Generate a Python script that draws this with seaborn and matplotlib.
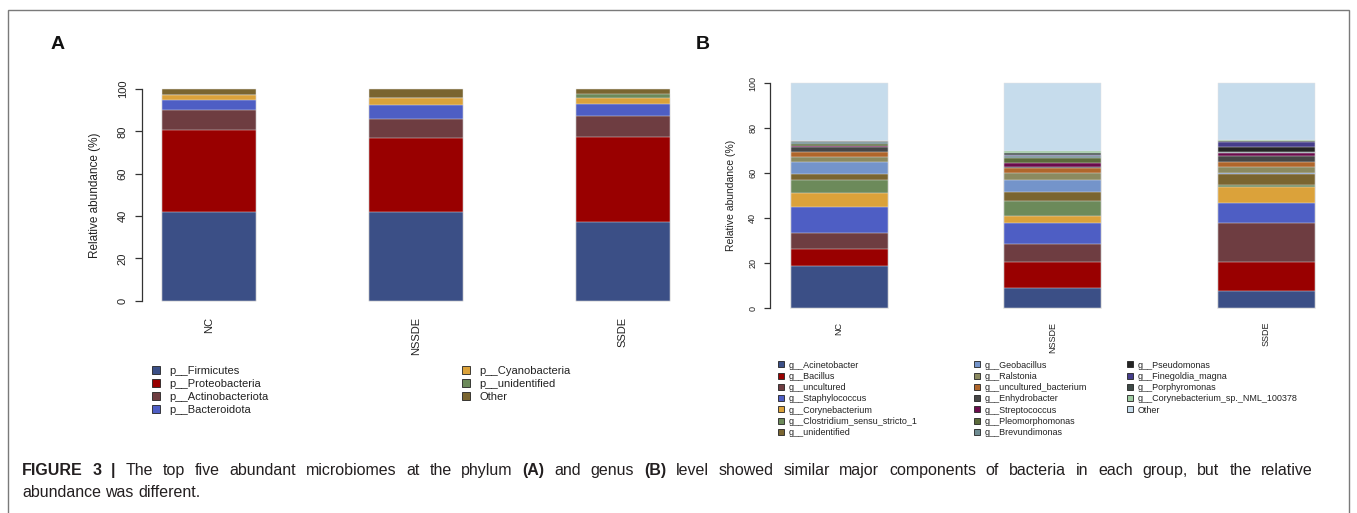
import matplotlib
matplotlib.use("Agg")
import matplotlib.pyplot as plt
from matplotlib.patches import Patch, Rectangle
import numpy as np
import pandas as pd
import seaborn as sns

# ---------------- data ----------------
groups = ["NC", "NSSDE", "SSDE"]

# Panel A - phylum level (%)
p_firmicutes = [41.7, 42.0, 37.2]
p_proteobacteria = [38.9, 34.9, 40.3]
p_actinobacteriota = [9.5, 9.1, 9.9]
p_bacteroidota = [4.7, 6.6, 5.7]
p_cyanobacteria = [2.2, 3.0, 2.8]
p_unidentified = [0.2, 0.2, 1.7]
p_other = [2.8, 4.2, 2.4]

phylum_names = ["p__Firmicutes", "p__Proteobacteria", "p__Actinobacteriota",
                "p__Bacteroidota", "p__Cyanobacteria", "p__unidentified", "Other"]
phylum_colors = ["#3B4F86", "#990000", "#6E3D41", "#4E5EC4", "#DBA23A",
                 "#6C8A5A", "#7A6530"]

# Panel B - genus level (%)
g_acinetobacter = [18.7, 9.2, 7.7]
g_bacillus = [7.7, 11.5, 13.0]
g_uncultured = [7.1, 7.7, 17.1]
g_staphylococcus = [11.7, 9.4, 9.2]
g_corynebacterium = [5.9, 3.3, 7.0]
g_clostridium = [5.9, 6.6, 0.8]
g_unidentified = [2.5, 4.1, 5.0]
g_geobacillus = [5.7, 5.2, 0.5]
g_ralstonia = [1.9, 3.0, 2.6]
g_uncultured_bacterium = [2.5, 2.2, 2.3]
g_enhydrobacter = [1.9, 0.7, 2.5]
g_streptococcus = [0.6, 1.5, 1.2]
g_pleomorphomonas = [0.8, 2.3, 0.3]
g_brevundimonas = [0.9, 1.0, 0.4]
g_pseudomonas = [0.2, 0.2, 1.9]
g_finegoldia = [0.1, 0.2, 2.3]
g_porphyromonas = [0.2, 0.8, 0.7]
g_coryne_sp = [0.1, 1.0, 0.1]
g_other = [25.6, 30.1, 25.4]

genus_names = ["g__Acinetobacter", "g__Bacillus", "g__uncultured", "g__Staphylococcus",
               "g__Corynebacterium", "g__Clostridium_sensu_stricto_1", "g__unidentified",
               "g__Geobacillus", "g__Ralstonia", "g__uncultured_bacterium", "g__Enhydrobacter",
               "g__Streptococcus", "g__Pleomorphomonas", "g__Brevundimonas",
               "g__Pseudomonas", "g__Finegoldia_magna", "g__Porphyromonas",
               "g__Corynebacterium_sp._NML_100378", "Other"]
genus_colors = ["#3B4F86", "#990000", "#6E3D41", "#4E5EC4", "#DBA23A", "#6C8A5A",
                "#7A6530", "#7494CA", "#8B8A60", "#B0662B", "#464646", "#6B0B4C",
                "#5B6A3A", "#6F8C92", "#242424", "#453D8A", "#3E4A47", "#9FCCA2",
                "#C6DCEC"]

phylum_layers = [p_firmicutes, p_proteobacteria, p_actinobacteriota, p_bacteroidota,
                 p_cyanobacteria, p_unidentified, p_other]
genus_layers = [g_acinetobacter, g_bacillus, g_uncultured, g_staphylococcus,
                g_corynebacterium, g_clostridium, g_unidentified, g_geobacillus,
                g_ralstonia, g_uncultured_bacterium, g_enhydrobacter, g_streptococcus,
                g_pleomorphomonas, g_brevundimonas, g_pseudomonas, g_finegoldia,
                g_porphyromonas, g_coryne_sp, g_other]

# ---------------- style ----------------
sns.set_style("white")
plt.rcParams["font.family"] = ["Liberation Sans", "DejaVu Sans"]

W, H = 1357, 513
fig = plt.figure(figsize=(W / 100, H / 100), dpi=100)
BAR_W = 1 / 2.2
AXC = "#333333"


def px_axes(left, top, right, bottom):
    return fig.add_axes([left / W, 1 - bottom / H, (right - left) / W, (bottom - top) / H])


def stacked(ax, layers, colors):
    cum = np.cumsum(np.array(layers, dtype=float), axis=0)
    for i in range(len(layers) - 1, -1, -1):
        df = pd.DataFrame({"group": groups, "value": cum[i]})
        sns.barplot(data=df, x="group", y="value", color=colors[i], saturation=1,
                    width=BAR_W, errorbar=None, edgecolor="#e4e4e4", linewidth=0.35,
                    ax=ax)


def style(ax, tick_fs, label_fs, xpad, ylab_x, tlen, ypad):
    ax.set_xlim(-0.3255, 2.3255)
    ax.set_ylim(-4, 104)
    for s in ["top", "right", "bottom"]:
        ax.spines[s].set_visible(False)
    ax.spines["left"].set_bounds(0, 100)
    ax.spines["left"].set_color(AXC)
    ax.spines["left"].set_linewidth(0.9)
    ax.set_yticks([0, 20, 40, 60, 80, 100])
    ax.tick_params(axis="y", left=True, length=tlen, width=0.9, pad=ypad,
                   labelsize=tick_fs, color=AXC, labelcolor="#222222")
    for t in ax.get_yticklabels():
        t.set_rotation(90)
        t.set_va("center")
    ax.tick_params(axis="x", bottom=False, length=0, pad=xpad, labelsize=tick_fs,
                   labelcolor="#222222")
    for t in ax.get_xticklabels():
        t.set_rotation(90)
        t.set_va("top")
        t.set_ha("center")
    ax.set_xlabel("")
    ax.set_ylabel("Relative abundance (%)", fontsize=label_fs, color="#222222")
    ax.yaxis.label.set_va("center")
    ax.yaxis.set_label_coords(ylab_x, 0.5)
    ax.set_facecolor("none")


# Panel A
axA = px_axes(142, 80.5, 689.9, 309.2)
stacked(axA, phylum_layers, phylum_colors)
style(axA, 8, 8.5, 5.6, (95 - 142) / 547.9, 4.8, 5.5)

# Panel B
axB = px_axes(769.7, 74.3, 1336, 317.3)
stacked(axB, genus_layers, genus_colors)
style(axB, 6.5, 7.5, 3.2, (731.5 - 769.7) / 566.3, 4.0, 5.0)


def add_legend(labels, colors, x_px, y_px, fs, hl, tpad, lsp):
    handles = [Patch(facecolor=c, edgecolor="#222222", linewidth=0.6) for c in colors]
    fig.legend(handles, labels, loc="upper left", bbox_to_anchor=(x_px / W, 1 - y_px / H),
               frameon=False, fontsize=fs, handlelength=hl, handleheight=hl,
               handletextpad=tpad, labelspacing=lsp, borderpad=0, borderaxespad=0,
               labelcolor="#222222")


add_legend(phylum_names[:4], phylum_colors[:4], 152, 366, 8, 0.68, 0.9, 0.26)
add_legend(phylum_names[4:], phylum_colors[4:], 462, 366, 8, 0.68, 0.9, 0.26)
add_legend(genus_names[:7], genus_colors[:7], 778, 360.5, 6.5, 0.62, 0.6, 0.25)
add_legend(genus_names[7:14], genus_colors[7:14], 974, 360.5, 6.5, 0.62, 0.6, 0.25)
add_legend(genus_names[14:], genus_colors[14:], 1127, 360.5, 6.5, 0.62, 0.6, 0.25)

# panel letters
fig.text(57.5 / W, 1 - 44.5 / H, "A", fontsize=14, fontweight="bold", ha="center",
         va="center", color="#111111")
fig.text(703 / W, 1 - 44.5 / H, "B", fontsize=14, fontweight="bold", ha="center",
         va="center", color="#111111")

# frame
fig.patches.append(Rectangle((7.5 / W, -0.1), (1349 - 7.5) / W, 1.1 - 10 / H,
                             transform=fig.transFigure, fill=False,
                             edgecolor="#7a7a7a", linewidth=1.0))

# caption (justified first line)
cap_fs = 11.5
line1 = [("FIGURE", True), ("3", True), ("|", True), ("The", False), ("top", False),
         ("five", False), ("abundant", False), ("microbiomes", False), ("at", False),
         ("the", False), ("phylum", False), ("(A)", True), ("and", False),
         ("genus", False), ("(B)", True), ("level", False), ("showed", False),
         ("similar", False), ("major", False), ("components", False), ("of", False),
         ("bacteria", False), ("in", False), ("each", False), ("group,", False),
         ("but", False), ("the", False), ("relative", False)]
line2 = [("abundance", False), ("was", False), ("different.", False)]

renderer = fig.canvas.get_renderer()


def measure(s, bold):
    t = fig.text(0, 0, s, fontsize=cap_fs, fontweight="bold" if bold else "normal")
    w = t.get_window_extent(renderer).width
    t.remove()
    return w


space_w = measure("a a", False) - measure("aa", False)


def draw_line(words, y_base, x0, x1=None):
    widths = [measure(w, b) for w, b in words]
    if x1 is None:
        gap = space_w
    else:
        gap = (x1 - x0 - sum(widths)) / (len(words) - 1)
    x = x0
    for (w, b), wd in zip(words, widths):
        fig.text(x / W, 1 - y_base / H, w, fontsize=cap_fs,
                 fontweight="bold" if b else "normal", ha="left", va="baseline",
                 color="#231f20")
        x += wd + gap


draw_line(line1, 475, 22, 1313)
draw_line(line2, 497, 22)

fig.savefig("out.png", dpi=100)
